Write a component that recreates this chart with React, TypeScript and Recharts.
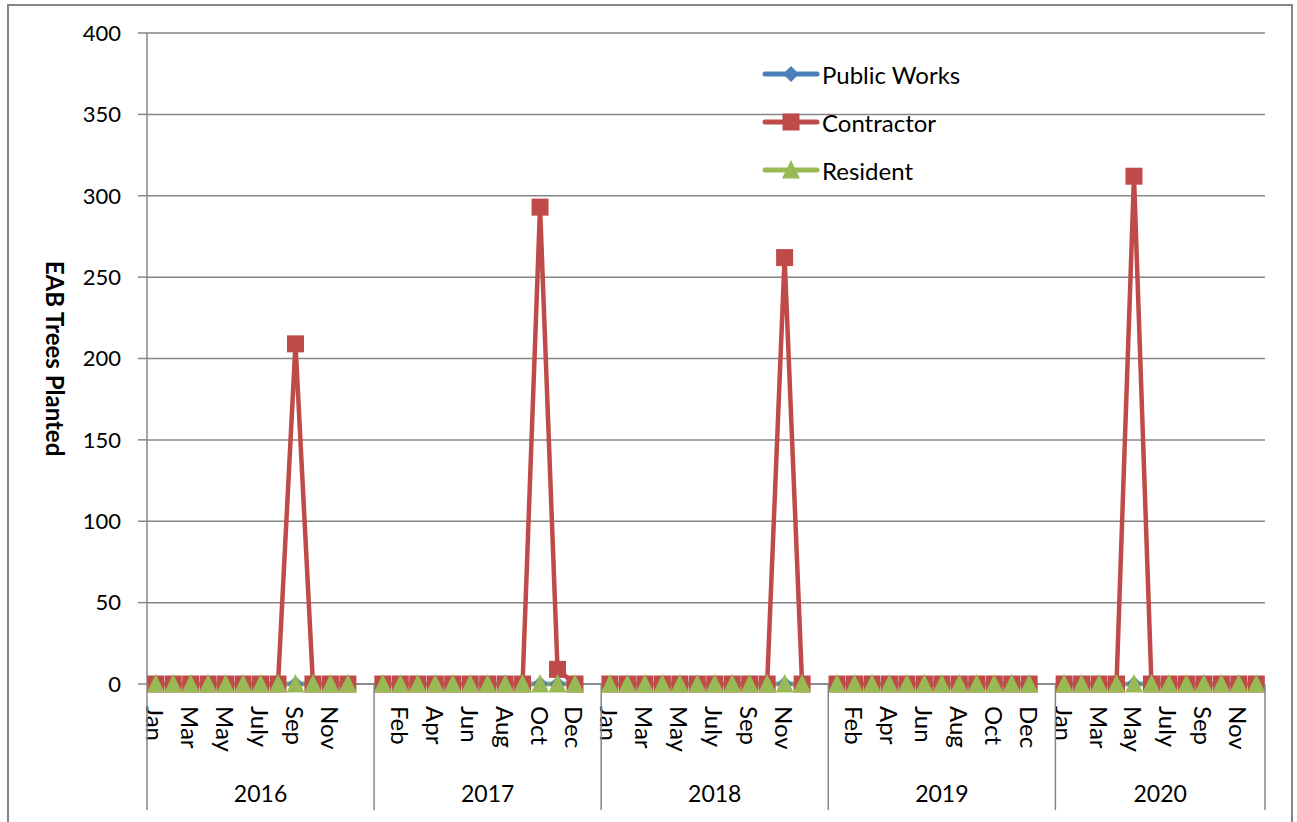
import { LineChart, Line, XAxis, YAxis, CartesianGrid, Legend } from 'recharts';

const years = ['2016', '2017', '2018', '2019', '2020'];
const months = ['Jan', 'Feb', 'Mar', 'Apr', 'May', 'Jun', 'July', 'Aug', 'Sep', 'Oct', 'Nov', 'Dec'];

// one row per year, one value per month
const publicWorks = [
  [0, 0, 0, 0, 0, 0, 0, 0, 0, 0, 0, 0],
  [0, 0, 0, 0, 0, 0, 0, 0, 0, 0, 0, 0],
  [0, 0, 0, 0, 0, 0, 0, 0, 0, 0, 0, 0],
  [0, 0, 0, 0, 0, 0, 0, 0, 0, 0, 0, 0],
  [0, 0, 0, 0, 0, 0, 0, 0, 0, 0, 0, 0],
];
const contractor = [
  [0, 0, 0, 0, 0, 0, 0, 0, 209, 0, 0, 0],
  [0, 0, 0, 0, 0, 0, 0, 0, 0, 293, 9, 0],
  [0, 0, 0, 0, 0, 0, 0, 0, 0, 0, 262, 0],
  [0, 0, 0, 0, 0, 0, 0, 0, 0, 0, 0, 0],
  [0, 0, 0, 0, 312, 0, 0, 0, 0, 0, 0, 0],
];
const resident = [
  [0, 0, 0, 0, 0, 0, 0, 0, 0, 0, 0, 0],
  [0, 0, 0, 0, 0, 0, 0, 0, 0, 0, 0, 0],
  [0, 0, 0, 0, 0, 0, 0, 0, 0, 0, 0, 0],
  [0, 0, 0, 0, 0, 0, 0, 0, 0, 0, 0, 0],
  [0, 0, 0, 0, 0, 0, 0, 0, 0, 0, 0, 0],
];
const yTicks = [0, 50, 100, 150, 200, 250, 300, 350, 400];

const series = [
  { key: 'pw', name: 'Public Works', color: '#4A7EBB', shape: 'diamond', values: publicWorks },
  { key: 'con', name: 'Contractor', color: '#BE4B48', shape: 'square', values: contractor },
  { key: 'res', name: 'Resident', color: '#98B954', shape: 'triangle', values: resident },
];

const FONT = 'Lato, "Open Sans", sans-serif';
const GRID = '#868686';
const MONTH_AXIS_H = 74;
const YEAR_AXIS_H = 52;

// build the rows: 12 months per year, an empty slot between years
const rows: any[] = [];
const monthLabelAt = new Map<number, string>();
const yearBounds: number[] = [];
const yearCenters = new Map<number, string>();
years.forEach((yr, yi) => {
  const start = rows.length;
  yearBounds.push(start);
  months.forEach((m, mi) => {
    const r: any = { x: rows.length + 0.5, month: m };
    series.forEach((s) => (r[s.key] = s.values[yi][mi]));
    rows.push(r);
  });
  if (yi < years.length - 1) {
    const r: any = { x: rows.length + 0.5, month: '' };
    series.forEach((s) => (r[s.key] = null));
    rows.push(r);
  }
  yearCenters.set((start + rows.length) / 2, yr);
});
const total = rows.length;
yearBounds.push(total);

const monthTicks: number[] = [];
rows.forEach((r, i) => {
  if (i % 2 === 0) {
    monthTicks.push(r.x);
    monthLabelAt.set(r.x, r.month);
  }
});
const yearTicks = [...yearBounds, ...Array.from(yearCenters.keys())].sort((a, b) => a - b);

const marker = (shape: string, cx: number, cy: number, color: string, k?: string) => {
  if (shape === 'diamond') {
    const s = 8;
    return <path key={k} d={`M${cx},${cy - s}L${cx + s},${cy}L${cx},${cy + s}L${cx - s},${cy}Z`} fill={color} />;
  }
  if (shape === 'square') {
    const s = 8.5;
    return <rect key={k} x={cx - s} y={cy - s} width={s * 2} height={s * 2} fill={color} />;
  }
  return <path key={k} d={`M${cx},${cy - 10}L${cx + 9},${cy + 8.5}L${cx - 9},${cy + 8.5}Z`} fill={color} />;
};

const dotFor = (shape: string, color: string) => (props: any) => {
  const { cx, cy, index, value } = props;
  const k = `${shape}-${index}`;
  if (value == null || cx == null || cy == null) return <g key={k} />;
  return marker(shape, cx, cy, color, k);
};

const MonthTick = (props: any) => {
  const { x, y, payload } = props;
  return (
    <text
      transform={`translate(${x},${y + 22}) rotate(90)`}
      textAnchor="start"
      dominantBaseline="central"
      fontSize={24}
      fontFamily={FONT}
      fill="#000"
    >
      {monthLabelAt.get(payload.value) ?? ''}
    </text>
  );
};

const YearTick = (props: any) => {
  const { x, y, payload } = props;
  if (yearCenters.has(payload.value)) {
    return (
      <text x={x} y={y + 35} textAnchor="middle" dominantBaseline="central" fontSize={23} fontFamily={FONT} fill="#000">
        {yearCenters.get(payload.value)}
      </text>
    );
  }
  return <line x1={x} x2={x} y1={y - MONTH_AXIS_H} y2={y + YEAR_AXIS_H} stroke={GRID} strokeWidth={1.5} />;
};

const renderLegend = () => (
  <div style={{ fontFamily: FONT, fontSize: 24, color: '#000' }}>
    {series.map((s) => (
      <div key={s.key} style={{ display: 'flex', alignItems: 'center', height: 48 }}>
        <svg width={58} height={24} style={{ marginRight: 2 }}>
          <line x1={3} x2={55} y1={12} y2={12} stroke={s.color} strokeWidth={5} strokeLinecap="round" />
          {marker(s.shape, 29, 12, s.color)}
        </svg>
        <span>{s.name}</span>
      </div>
    ))}
  </div>
);

const yTitle = (props: any) => {
  const vb = props.viewBox;
  const cx = vb.x + 55;
  const cy = vb.y + vb.height / 2;
  return (
    <text
      transform={`translate(${cx},${cy}) rotate(90)`}
      textAnchor="middle"
      dominantBaseline="central"
      fontSize={24}
      fontWeight="bold"
      fontFamily={FONT}
      fill="#000"
    >
      EAB Trees Planted
    </text>
  );
};

export default function App() {
  return (
    <div style={{ position: 'absolute', left: 0, top: 0, width: 1297, height: 822, overflow: 'hidden', background: '#fff' }}>
      <div
        style={{
          position: 'absolute',
          left: 7,
          top: 4,
          width: 1286,
          height: 830,
          border: `2px solid ${GRID}`,
          boxSizing: 'border-box',
        }}
      />
      <LineChart
        width={1297}
        height={822}
        data={rows}
        margin={{ top: 33, right: 32, bottom: 12, left: 0 }}
        style={{ fontFamily: FONT }}
      >
        <CartesianGrid vertical={false} stroke={GRID} strokeWidth={1.5} />
        <XAxis
          xAxisId="m"
          dataKey="x"
          type="number"
          domain={[0, total]}
          ticks={monthTicks}
          interval={0}
          tick={<MonthTick />}
          tickLine={false}
          tickSize={0}
          tickMargin={0}
          height={MONTH_AXIS_H}
          axisLine={{ stroke: GRID, strokeWidth: 1.5 }}
        />
        <XAxis
          xAxisId="yr"
          dataKey="x"
          type="number"
          domain={[0, total]}
          ticks={yearTicks}
          interval={0}
          tick={<YearTick />}
          tickLine={false}
          tickSize={0}
          tickMargin={0}
          height={YEAR_AXIS_H}
          axisLine={false}
        />
        <YAxis
          domain={[0, 400]}
          ticks={yTicks}
          width={147}
          tickSize={9}
          tickMargin={17}
          tick={{ fontSize: 22, fill: '#000', fontFamily: FONT }}
          axisLine={{ stroke: GRID, strokeWidth: 1.5 }}
          tickLine={{ stroke: GRID, strokeWidth: 1.5 }}
          label={{ content: yTitle }}
        />
        <Legend
          layout="vertical"
          align="center"
          verticalAlign="middle"
          content={renderLegend}
          wrapperStyle={{ left: 762, top: 50, width: 260 }}
        />
        {series.map((s) => (
          <Line
            key={s.key}
            xAxisId="m"
            dataKey={s.key}
            name={s.name}
            stroke={s.color}
            strokeWidth={4.5}
            dot={dotFor(s.shape, s.color)}
            activeDot={false}
            isAnimationActive={false}
          />
        ))}
      </LineChart>
    </div>
  );
}
